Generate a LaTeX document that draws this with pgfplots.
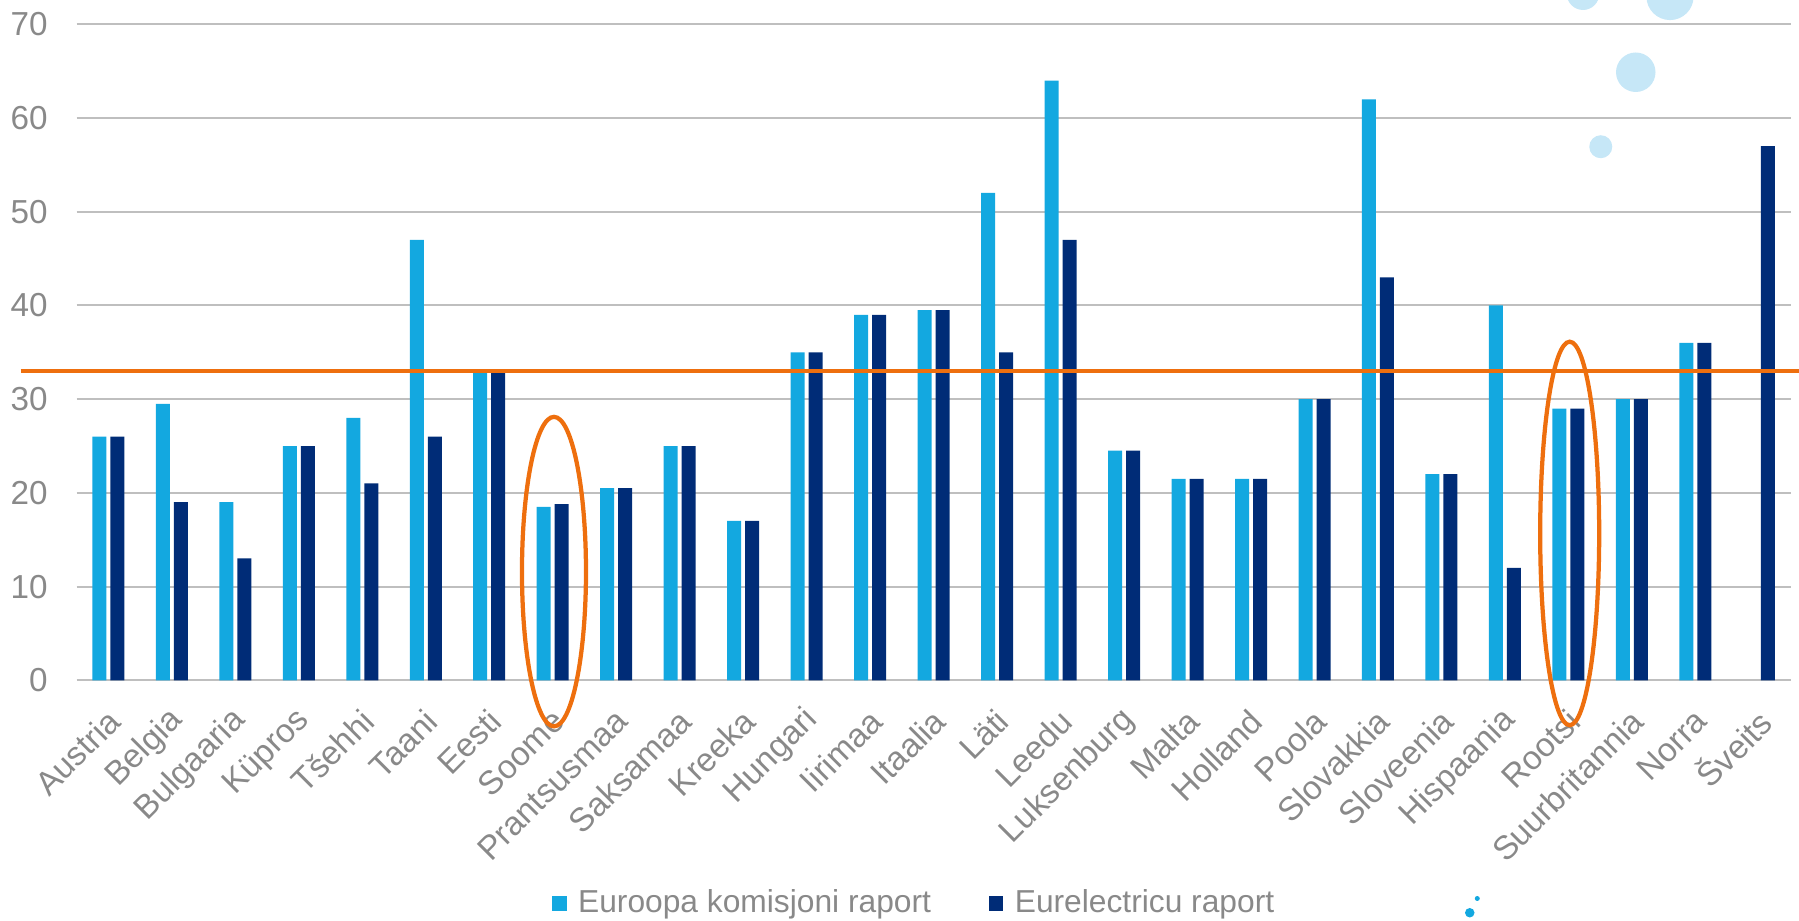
\documentclass[border=0pt]{standalone}
\usepackage{pgfplots}
\pgfplotsset{compat=1.18}
\usepackage{pgfplotstable}
\usetikzlibrary{shapes.geometric}
\usepackage{fontspec}
\setmainfont{Liberation Sans}
\definecolor{lblue}{HTML}{13A8E0}
\definecolor{dblue}{HTML}{002C77}
\definecolor{orng}{HTML}{EE6F0E}
\definecolor{txtgray}{HTML}{898989}
\definecolor{gridgray}{HTML}{BFBFBF}
\definecolor{bubble}{HTML}{C6E7F7}

\pgfplotstableread{
x a b
0 26 26
1 29.5 19
2 19 13
3 25 25
4 28 21
5 47 26
6 33 33
7 18.5 18.8
8 20.5 20.5
9 25 25
10 17 17
11 35 35
12 39 39
13 39.5 39.5
14 52 35
15 64 47
16 24.5 24.5
17 21.5 21.5
18 21.5 21.5
19 30 30
20 62 43
21 22 22
22 40 12
23 29 29
24 30 30
25 36 36
26 nan 57
}\datatable

\newcommand{\chfont}{\fontsize{12.7}{15}\selectfont}
\newcommand{\yfont}{\fontsize{13.3}{15}\selectfont}
\newcommand{\xfont}{\fontsize{13.3}{16}\selectfont}

\begin{document}
\begin{tikzpicture}
\begin{axis}[
  at={(30.64pt,96.28pt)}, anchor=south west,
  scale only axis, width=685.6pt, height=262.4pt,
  xmin=-0.5, xmax=26.5, ymin=0, ymax=70,
  axis line style={draw=none},
  ytick={0,10,...,70},
  ymajorgrids, grid style={gridgray, line width=0.8pt},
  xtick={0,...,26},
  xticklabels={Austria,Belgia,Bulgaaria,Küpros,Tšehhi,Taani,Eesti,Soome,Prantsusmaa,Saksamaa,Kreeka,Hungari,Iirimaa,Itaalia,Läti,Leedu,Luksenburg,Malta,Holland,Poola,Slovakkia,Sloveenia,Hispaania,Rootsi,Suurbritannia,Norra,Šveits},
  major tick length=0pt, tick style={draw=none},
  /pgf/number format/assume math mode=true,
  ticklabel style={text=txtgray},
  xticklabel style={font=\xfont, anchor=east, inner sep=0pt, xshift=2.4pt, yshift=-14pt, rotate=45},
  yticklabel style={font=\yfont, anchor=east, inner sep=0pt, xshift=-11.4pt},
  clip=false,
  legend style={at={(0.488,-0.34)}, anchor=center, draw=none, fill=none,
    font=\chfont, text=txtgray, inner sep=0pt,
    nodes={inner sep=0pt},
    /tikz/every odd column/.append style={column sep=4.6pt},
    /tikz/every even column/.append style={column sep=23pt}},
  legend columns=2,
  mybar/.style={ybar, bar width=5.6pt, draw=none,
    legend image code/.code={\fill[##1] (0pt,-2.95pt) rectangle (5.9pt,2.95pt);}},
]
\addplot[mybar, fill=lblue, bar shift=-3.6pt] table[x=x, y=a] {\datatable};
\addlegendentry{Euroopa komisjoni raport}
\addplot[mybar, fill=dblue, bar shift=3.6pt] table[x=x, y=b] {\datatable};
\addlegendentry{Eurelectricu raport}
\addplot[orng, line width=1.5pt, mark=none, forget plot] coordinates {(-1.38,33) (26.65,33)};
\node[draw=orng, line width=1.7pt, ellipse, inner sep=0pt, minimum width=25.6pt, minimum height=123.8pt] at (axis cs:7.02,11.6) {};
\node[draw=orng, line width=1.7pt, ellipse, inner sep=0pt, minimum width=23.6pt, minimum height=153.4pt] at (axis cs:23.02,15.67) {};
\end{axis}
\fill[bubble] (633.2pt,370.9pt) circle (6.5pt);
\fill[bubble] (668pt,369.8pt) circle (9.44pt);
\fill[bubble] (654.3pt,339.5pt) circle (7.9pt);
\fill[bubble] (640.3pt,309.7pt) circle (4.6pt);
\fill[lblue] (590.9pt,9.0pt) circle (1.0pt);
\fill[lblue] (587.9pt,3.3pt) circle (1.9pt);
\pgfresetboundingbox
\useasboundingbox (0,0) rectangle (719.6pt,368.4pt);
\end{tikzpicture}
\end{document}
